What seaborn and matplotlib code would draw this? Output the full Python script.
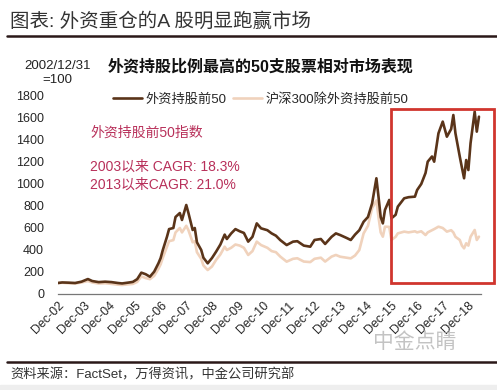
import numpy as np
import pandas as pd
import matplotlib
matplotlib.use("Agg")
import matplotlib.pyplot as plt
import matplotlib.dates as mdates
from matplotlib.patches import Rectangle
from matplotlib.lines import Line2D
import seaborn as sns

# --- data (index, 2002/12/31 = 100) ---
dates = [
    "2002-12-31", "2003-03", "2003-06", "2003-09", "2003-12", "2004-03", "2004-05",
    "2004-08", "2004-11", "2005-02", "2005-05", "2005-07", "2005-10", "2005-12",
    "2006-02", "2006-04", "2006-06", "2006-08", "2006-10", "2006-12", "2007-01",
    "2007-02", "2007-04", "2007-05", "2007-07", "2007-08", "2007-10", "2007-11",
    "2008-01", "2008-02", "2008-04", "2008-05", "2008-06", "2008-08", "2008-09",
    "2008-11", "2009-01", "2009-03", "2009-05", "2009-07", "2009-08", "2009-10",
    "2009-12", "2010-02", "2010-04", "2010-06", "2010-08", "2010-10", "2010-12",
    "2011-03", "2011-05", "2011-07", "2011-09", "2011-12", "2012-03", "2012-05",
    "2012-08", "2012-11", "2013-01", "2013-04", "2013-06", "2013-09", "2013-11",
    "2014-01", "2014-04", "2014-06", "2014-08", "2014-10", "2014-12", "2015-02",
    "2015-04", "2015-06", "2015-07", "2015-08", "2015-09", "2015-10", "2015-12",
    "2016-01", "2016-03", "2016-04", "2016-07", "2016-09", "2016-12", "2017-01",
    "2017-03", "2017-05", "2017-06", "2017-08", "2017-09", "2017-11", "2018-01",
    "2018-03", "2018-05", "2018-06", "2018-07", "2018-09", "2018-10", "2018-11",
    "2018-12", "2019-01", "2019-02", "2019-04", "2019-05", "2019-06",
]
top50 = [
    100, 105, 103, 100, 112, 136, 118,
    108, 112, 108, 100, 96, 104, 110,
    135, 194, 180, 157, 203, 280, 327,
    400, 520, 590, 600, 700, 736, 673,
    809, 736, 582, 600, 470, 400, 330,
    279, 327, 385, 450, 540, 500, 550,
    590, 570, 555, 476, 520, 642, 597,
    580, 551, 530, 490, 445, 476, 480,
    440, 430, 491, 500, 455, 520, 551,
    536, 510, 491, 540, 580, 657, 700,
    824, 1052, 885, 700, 642, 764, 855,
    688, 720, 794, 870, 880, 885, 945,
    1000, 1100, 1203, 1250, 1203, 1461, 1567,
    1430, 1500, 1627, 1461, 1248, 1150, 1052,
    1218, 1127, 1370, 1658, 1476, 1612,
]
rest = [
    100, 102, 98, 95, 105, 118, 105,
    95, 98, 92, 85, 82, 88, 92,
    110, 160, 145, 135, 165, 230, 270,
    330, 430, 480, 490, 560, 600, 560,
    620, 580, 470, 480, 380, 320, 260,
    218, 250, 310, 360, 430, 400, 420,
    450, 440, 420, 355, 390, 476, 445,
    420, 390, 380, 340, 294, 320, 325,
    295, 290, 320, 330, 295, 340, 355,
    339, 330, 324, 350, 400, 551, 620,
    780, 850, 700, 560, 521, 612, 610,
    491, 520, 551, 567, 560, 570, 560,
    570, 536, 560, 580, 590, 612, 600,
    567, 580, 560, 520, 491, 440, 415,
    461, 440, 520, 582, 491, 521,
]
series_names = ["外资持股前50", "沪深300除外资持股前50"]
year_ticks = [f"{y}-12-31" for y in range(2002, 2019)]

DARK = "#5a3419"
LIGHT = "#f0d2bc"
RED = "#d0352e"
PINK = "#b8305a"

df = pd.DataFrame({"date": pd.to_datetime(dates, format="mixed"),
                   series_names[0]: top50, series_names[1]: rest})
long = df.melt(id_vars="date", var_name="series", value_name="value")

sns.set_style("white")
plt.rcParams["font.family"] = ["Liberation Sans", "Noto Sans CJK SC", "DejaVu Sans"]

fig = plt.figure(figsize=(4.97, 3.90), dpi=100)
ax = fig.add_axes([58 / 497, 1 - 294 / 390, (481 - 58) / 497, (294 - 96) / 390])

sns.lineplot(data=long, x="date", y="value", hue="series", hue_order=series_names[::-1],
             palette={series_names[0]: DARK, series_names[1]: LIGHT},
             linewidth=1.9, ax=ax, legend=False)

ax.set_xlim(pd.Timestamp("2002-12-31"), pd.Timestamp("2019-06-30"))
ax.set_ylim(0, 1800)
ax.set_yticks(range(0, 1801, 200))
ax.set_xticks(pd.to_datetime(year_ticks))
ax.xaxis.set_major_formatter(mdates.DateFormatter("Dec-%y"))
plt.setp(ax.get_xticklabels(), rotation=45, ha="right", rotation_mode="anchor")
ax.tick_params(axis="x", direction="in", length=4, color="#777777", labelsize=9, pad=4)
ax.tick_params(axis="y", length=0, labelsize=9, pad=10)
ax.set_xlabel("")
ax.set_ylabel("")
for side in ["top", "right", "left"]:
    ax.spines[side].set_visible(False)
ax.spines["bottom"].set_color("#777777")
ax.spines["bottom"].set_linewidth(0.9)

# highlight box
x0 = mdates.date2num(pd.Timestamp("2016-01-01"))
x1 = mdates.date2num(pd.Timestamp("2020-01-01"))
ax.add_patch(Rectangle((x0, 100), x1 - x0, 1580, fill=False, edgecolor=RED,
                       linewidth=2, clip_on=False, zorder=5))

# legend
handles = [Line2D([], [], color=DARK, linewidth=1.9), Line2D([], [], color=LIGHT, linewidth=1.9)]
fig.legend(handles, series_names, loc="center left", bbox_to_anchor=(0.228, 0.746), ncol=2,
           frameon=False, fontsize=9.5, handlelength=2.2, handletextpad=0.25, columnspacing=0.5,
           borderaxespad=0, borderpad=0)

# texts
fig.text(0.524, 0.828, "外资持股比例最高的50支股票相对市场表现", ha="center", va="center",
         fontsize=11.5, fontweight="bold", color="#111111")
fig.text(0.115, 0.812, "2002/12/31\n=100", ha="center", va="center", fontsize=9.5, color="#222222",
         linespacing=1.2)
fig.text(0.181, 0.659, "外资持股前50指数", ha="left", va="center", fontsize=10, color=PINK)
fig.text(0.181, 0.572, "2003以来 CAGR: 18.3%", ha="left", va="center", fontsize=10, color=PINK)
fig.text(0.181, 0.526, "2013以来CAGR: 21.0%", ha="left", va="center", fontsize=10, color=PINK)

fig.text(0.02, 0.944, "图表: 外资重仓的A 股明显跑赢市场", ha="left", va="center",
         fontsize=14, color="#333333")
fig.add_artist(Line2D([0.014, 1.0], [0.908, 0.908], color="#2a1818", linewidth=1.8))
fig.add_artist(Line2D([0.014, 1.0], [0.072, 0.072], color="#2a1818", linewidth=1.8))
fig.text(0.02, 0.040, "资料来源：FactSet，万得资讯，中金公司研究部", ha="left", va="center",
         fontsize=9.5, color="#333333")
fig.text(0.835, 0.123, "中金点睛", ha="center", va="center", fontsize=15, color="#aaaaaa", alpha=0.7)
fig.add_artist(Rectangle((0, 0), 1, 0.013, color="#eeeeee", transform=fig.transFigure))

fig.savefig("out.png", dpi=100)
